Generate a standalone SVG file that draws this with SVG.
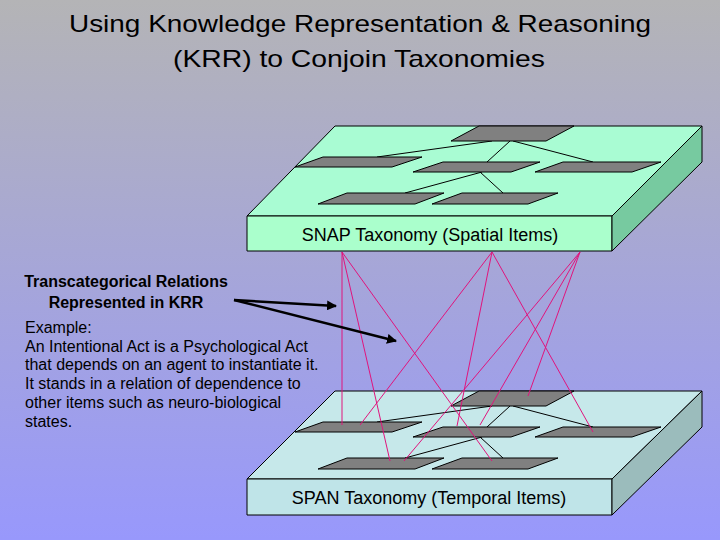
<svg xmlns="http://www.w3.org/2000/svg" width="720" height="540" viewBox="0 0 720 540">
  <defs>
    <linearGradient id="bg" x1="0" y1="0" x2="0" y2="1">
      <stop offset="0" stop-color="#b4b4b6"/>
      <stop offset="0.5" stop-color="#a6a6d8"/>
      <stop offset="1" stop-color="#9898fc"/>
    </linearGradient>
    <marker id="arrow" viewBox="0 0 10 10" refX="9" refY="5" markerWidth="4" markerHeight="4" orient="auto" markerUnits="strokeWidth">
      <path d="M0,0 L10,5 L0,10 Z" fill="#000"/>
    </marker>
  </defs>
  <style>
    .edge { stroke: #000; stroke-width: 1; stroke-linejoin: miter; }
    .node { fill: #808080; stroke: #000; stroke-width: 1; }
    .tree { stroke: #000; stroke-width: 1; fill: none; }
    .link { stroke: #e0147c; stroke-width: 1; fill: none; }
    .arr { stroke: #000; stroke-width: 2.5; fill: none; marker-end: url(#arrow); }
    .sans { font-family: "Liberation Sans", Arial, sans-serif; fill: #000; }
  </style>

  <rect width="720" height="540" fill="url(#bg)"/>

  <g id="title">
    <text class="sans" x="360" y="32" font-size="24" text-anchor="middle" textLength="582" lengthAdjust="spacingAndGlyphs">Using Knowledge Representation &amp; Reasoning</text>
    <text class="sans" x="359" y="67" font-size="24" text-anchor="middle" textLength="372" lengthAdjust="spacingAndGlyphs">(KRR) to Conjoin Taxonomies</text>
  </g>

  <!-- SNAP slab -->
  <g id="snap">
    <polygon class="edge" fill="#a9fcd3" points="335,126 702,126 612,216 247,216"/>
    <polygon class="edge" fill="#aaffcc" points="247,216 612,216 612,251 247,251"/>
    <polygon class="edge" fill="#77caa0" points="612,216 702,126 702,162 612,251"/>
    <text class="sans" x="430" y="241" font-size="18" text-anchor="middle">SNAP Taxonomy (Spatial Items)</text>
    <g id="snap-tree">
      <line class="tree" x1="492" y1="141" x2="377" y2="157"/>
      <line class="tree" x1="510" y1="141" x2="487" y2="162"/>
      <line class="tree" x1="513" y1="141" x2="593" y2="162"/>
      <line class="tree" x1="482" y1="172" x2="405" y2="193"/>
      <line class="tree" x1="480" y1="172" x2="503" y2="193"/>
    </g>
    <g id="snap-root"><polygon class="node" points="479,126 574,126 546,141 451,141"/></g>
    <g id="snap-left"><polygon class="node" points="323,157 422,157 392,167 295,167"/></g>
    <g id="snap-mid"><polygon class="node" points="443,162 540,162 511,172 413,172"/></g>
    <g id="snap-right"><polygon class="node" points="563,162 661,162 632,172 535,172"/></g>
    <g id="snap-bl"><polygon class="node" points="347,193 444,193 415,204 318,204"/></g>
    <g id="snap-br"><polygon class="node" points="462,193 558,193 528,204 432,204"/></g>
  </g>

  <!-- SPAN slab -->
  <g id="span">
    <polygon class="edge" fill="#c6e8ea" points="335,391 702,391 612,479 247,479"/>
    <polygon class="edge" fill="#bfe4e8" points="247,479 612,479 612,515 247,515"/>
    <polygon class="edge" fill="#9bbcbc" points="612,479 702,391 702,427 612,515"/>
    <text class="sans" x="429" y="504" font-size="18" text-anchor="middle">SPAN Taxonomy (Temporal Items)</text>
    <g id="span-tree">
      <line class="tree" x1="492" y1="406" x2="377" y2="422"/>
      <line class="tree" x1="510" y1="406" x2="487" y2="427"/>
      <line class="tree" x1="513" y1="406" x2="593" y2="427"/>
      <line class="tree" x1="482" y1="437" x2="405" y2="458"/>
      <line class="tree" x1="480" y1="437" x2="503" y2="458"/>
    </g>
    <g id="span-root"><polygon class="node" points="479,391 574,391 546,406 451,406"/></g>
    <g id="span-left"><polygon class="node" points="323,422 422,422 392,432 295,432"/></g>
    <g id="span-mid"><polygon class="node" points="443,427 540,427 511,437 413,437"/></g>
    <g id="span-right"><polygon class="node" points="563,427 661,427 632,437 535,437"/></g>
    <g id="span-bl"><polygon class="node" points="347,458 444,458 415,469 318,469"/></g>
    <g id="span-br"><polygon class="node" points="462,458 558,458 528,469 432,469"/></g>
  </g>

  <!-- Connectors -->
  <g id="connectors">
    <line class="link" x1="342" y1="252" x2="342" y2="425"/>
    <line class="link" x1="342" y1="252" x2="390" y2="461"/>
    <line class="link" x1="342" y1="252" x2="492" y2="461"/>
    <line class="link" x1="492" y1="252" x2="360" y2="425"/>
    <line class="link" x1="492" y1="252" x2="457" y2="426"/>
    <line class="link" x1="492" y1="252" x2="593" y2="432"/>
    <line class="link" x1="580" y1="252" x2="404" y2="461"/>
    <line class="link" x1="580" y1="252" x2="480" y2="425"/>
    <line class="link" x1="580" y1="252" x2="528" y2="396"/>
    <line class="arr" x1="234" y1="300" x2="336" y2="306"/>
    <line class="arr" x1="234" y1="300" x2="396" y2="341"/>
  </g>

  <g id="krr-label">
    <text class="sans" x="126" y="287" font-size="16" font-weight="bold" text-anchor="middle">Transcategorical Relations</text>
    <text class="sans" x="126" y="308" font-size="16" font-weight="bold" text-anchor="middle">Represented in KRR</text>
  </g>

  <g id="example" class="sans" font-size="16" fill="#111">
    <text x="25" y="333">Example:</text>
    <text x="25" y="352">An Intentional Act is a Psychological Act</text>
    <text x="25" y="370">that depends on an agent to instantiate it.</text>
    <text x="25" y="389">It stands in a relation of dependence to</text>
    <text x="25" y="408">other items such as neuro-biological</text>
    <text x="25" y="427">states.</text>
  </g>
</svg>
